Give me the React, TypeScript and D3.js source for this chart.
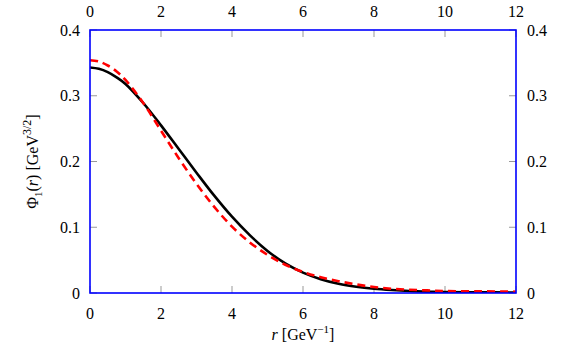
import React from 'react';
import * as d3 from 'd3';

// radius grid [GeV^-1]
const rValues = [0, 0.25, 0.5, 0.75, 1, 1.5, 2, 2.5, 3, 3.5, 4, 4.5, 5, 5.5, 6, 6.5, 7, 7.5, 8, 8.5, 9, 9.5, 10, 11, 12];
// solid black curve
const phiSolid = [0.343, 0.341, 0.336, 0.328, 0.318, 0.289, 0.255, 0.219, 0.183, 0.148, 0.116, 0.088, 0.064, 0.045, 0.031, 0.021, 0.014, 0.0095, 0.0065, 0.0045, 0.003, 0.002, 0.0015, 0.001, 0.0008];
// dashed red curve
const phiDashed = [0.354, 0.352, 0.346, 0.337, 0.324, 0.289, 0.247, 0.205, 0.166, 0.131, 0.101, 0.077, 0.058, 0.043, 0.032, 0.024, 0.018, 0.013, 0.009, 0.0065, 0.005, 0.004, 0.003, 0.0025, 0.002];

const xTicks = [0, 2, 4, 6, 8, 10, 12];
const yTicks = [0, 0.1, 0.2, 0.3, 0.4];

const W = 572, H = 354;
const left = 90, right = 516, top = 30, bottom = 293;
const font = "'Liberation Serif', 'Times New Roman', Times, 'DejaVu Serif', serif";

export default function App() {
  const x = d3.scaleLinear().domain([0, 12]).range([left, right]);
  const y = d3.scaleLinear().domain([0, 0.4]).range([bottom, top]);

  const line = d3.line<number>()
    .x((_, i) => x(rValues[i]))
    .y(d => y(d))
    .curve(d3.curveCatmullRom.alpha(0.5));

  const fmtY = (v: number) => (v === 0 ? '0' : d3.format('.1f')(v));
  const tickLen = 7;
  const tickColor = '#999';

  return (
    <svg width={W} height={H} style={{ position: 'absolute', left: 0, top: 0, fontFamily: font }}>
      <rect width={W} height={H} fill="#fff" />
      {/* ticks */}
      <g stroke={tickColor} strokeWidth={1}>
        {xTicks.map(t => (
          <g key={'xt' + t}>
            <line x1={x(t)} x2={x(t)} y1={bottom} y2={bottom - tickLen} />
            <line x1={x(t)} x2={x(t)} y1={top} y2={top + tickLen} />
          </g>
        ))}
        {yTicks.map(t => (
          <g key={'yt' + t}>
            <line x1={left} x2={left + tickLen} y1={y(t)} y2={y(t)} />
            <line x1={right} x2={right - tickLen} y1={y(t)} y2={y(t)} />
          </g>
        ))}
      </g>
      <defs>
        <clipPath id="plot">
          <rect x={left} y={top} width={right - left} height={bottom - top} />
        </clipPath>
      </defs>
      <g clipPath="url(#plot)" fill="none">
        <path d={line(phiSolid) ?? ''} stroke="#000" strokeWidth={2.6} />
        <path d={line(phiDashed) ?? ''} stroke="#ff0000" strokeWidth={2.6} strokeDasharray="8,5" />
      </g>
      <rect x={left} y={top} width={right - left} height={bottom - top} fill="none" stroke="#0000ff" strokeWidth={1.6} />
      {/* tick labels */}
      <g fontSize={16} fill="#000">
        {xTicks.map(t => (
          <g key={'xl' + t}>
            <text x={x(t)} y={319} textAnchor="middle">{t}</text>
            <text x={x(t)} y={17} textAnchor="middle">{t}</text>
          </g>
        ))}
        {yTicks.map(t => (
          <g key={'yl' + t}>
            <text x={80} y={y(t) + 5.5} textAnchor="end">{fmtY(t)}</text>
            <text x={527} y={y(t) + 5.5} textAnchor="start">{fmtY(t)}</text>
          </g>
        ))}
      </g>
      {/* axis labels */}
      <text x={(left + right) / 2} y={340} fontSize={16} textAnchor="middle">
        <tspan fontStyle="italic">r</tspan> [GeV
        <tspan fontSize={11} dy={-7}>−1</tspan>
        <tspan dy={7}>]</tspan>
      </text>
      <text transform={`translate(38,${(top + bottom) / 2}) rotate(-90)`} fontSize={16} textAnchor="middle">
        Φ<tspan fontSize={11} dy={4}>1</tspan>
        <tspan dy={-4}>(</tspan><tspan fontStyle="italic">r</tspan>) [GeV
        <tspan fontSize={12} dy={-7}>3/2</tspan>
        <tspan dy={7}>]</tspan>
      </text>
    </svg>
  );
}
